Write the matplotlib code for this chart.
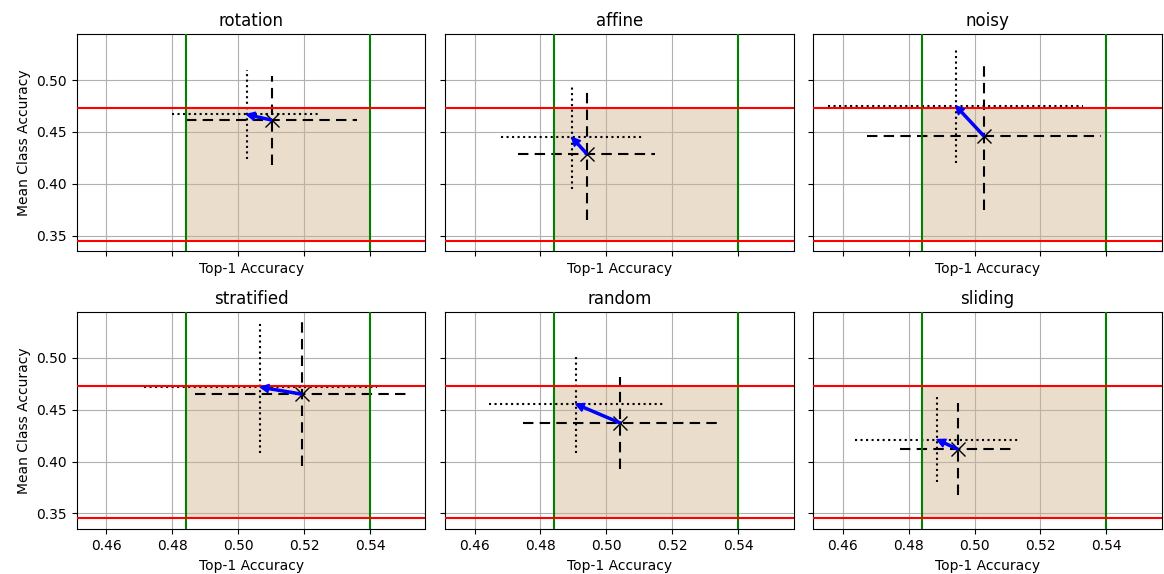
import numpy as np
import matplotlib
matplotlib.use("Agg")
import matplotlib.pyplot as plt
from matplotlib.patches import Rectangle

names = ["rotation", "affine", "noisy", "stratified", "random", "sliding"]

# mean (dashed) point and its std
top1_mean = [0.5101, 0.4940, 0.5028, 0.5192, 0.5042, 0.4949]
top1_std = [0.0260, 0.0208, 0.0355, 0.0323, 0.0295, 0.0175]
mca_mean = [0.4615, 0.4291, 0.4462, 0.4651, 0.4372, 0.4119]
mca_std = [0.0430, 0.0637, 0.0717, 0.0696, 0.0448, 0.0446]

# second (dotted) point and its std
top1_alt = [0.5025, 0.4895, 0.4943, 0.5067, 0.4907, 0.4886]
top1_alt_std = [0.0225, 0.0216, 0.0387, 0.0354, 0.0264, 0.0249]
mca_alt = [0.4669, 0.4448, 0.4753, 0.4718, 0.4555, 0.4212]
mca_alt_std = [0.0430, 0.0497, 0.0548, 0.0636, 0.0477, 0.0414]

# reference bounds
top1_bounds = [0.484, 0.540]
mca_bounds = [0.345, 0.473]


def draw_cross(ax, x, y, xe, ye, ls, marker):
	eb = ax.errorbar(x, y, xerr=xe, yerr=ye, fmt=marker, color='k',
					 ecolor='k', markersize=10, elinewidth=1.5, capsize=0)
	for lc in eb[2]:
		lc.set_linestyle(ls)
	return eb


fig, axes = plt.subplots(2, 3, figsize=(11.64, 5.74), dpi=100, sharex=True, sharey=True)
fig.subplots_adjust(left=0.066, right=0.998, top=0.94, bottom=0.078, wspace=0.056, hspace=0.28)

for i, ax in enumerate(axes.flat):
	ax.add_patch(Rectangle((top1_bounds[0], mca_bounds[0]),
						   top1_bounds[1] - top1_bounds[0], mca_bounds[1] - mca_bounds[0],
						   facecolor='tan', alpha=0.45, edgecolor='none', zorder=1))
	for xv in top1_bounds:
		ax.axvline(xv, color='green', lw=1.5, zorder=3)
	for yv in mca_bounds:
		ax.axhline(yv, color='red', lw=1.5, zorder=3)

	draw_cross(ax, top1_alt[i], mca_alt[i], top1_alt_std[i], mca_alt_std[i], ':', 'none')
	draw_cross(ax, top1_mean[i], mca_mean[i], top1_std[i], mca_std[i], (0, (5, 3)), 'x')

	ax.annotate('', xy=(top1_alt[i], mca_alt[i]), xytext=(top1_mean[i], mca_mean[i]),
				arrowprops=dict(facecolor='blue', edgecolor='blue', width=1.5,
								headwidth=6, headlength=6, shrink=0), zorder=5)

	ax.set_title(names[i])
	ax.set_xlabel("Top-1 Accuracy")
	if i % 3 == 0:
		ax.set_ylabel("Mean Class Accuracy")
	ax.grid(True, zorder=0)
	ax.set_axisbelow(True)

ax = axes[0, 0]
ax.set_xlim(0.451, 0.5568)
ax.set_ylim(0.3346, 0.5442)
ax.set_xticks([0.46, 0.48, 0.50, 0.52, 0.54])
ax.set_yticks([0.35, 0.40, 0.45, 0.50])

fig.savefig("out.png")
